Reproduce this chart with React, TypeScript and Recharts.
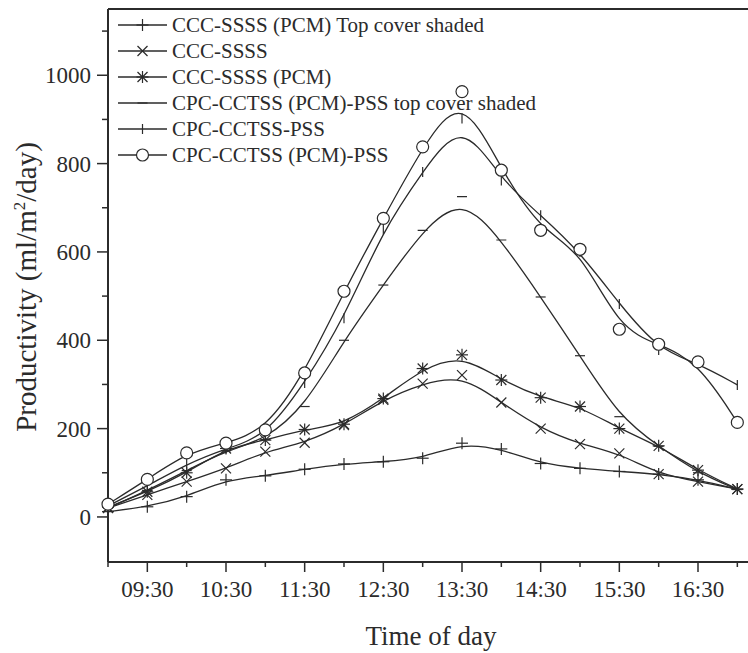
import React from 'react';
import { LineChart, Line, XAxis, YAxis, ReferenceLine } from 'recharts';

const hours = [9, 9.5, 10, 10.5, 11, 11.5, 12, 12.5, 13, 13.5, 14, 14.5, 15, 15.5, 16, 16.5, 17];
const cccPcmShaded = [12, 23, 46, 84, 93, 108, 120, 125, 133, 167, 154, 121, 110, 103, 97, 84, 63];
const cccSsss = [20, 50, 80, 110, 148, 168, 208, 265, 302, 321, 259, 200, 165, 144, 97, 80, 63];
const cccPcm = [22, 57, 100, 155, 174, 198, 210, 268, 336, 367, 310, 270, 250, 200, 161, 106, 63];
const cpcPcmShaded = [20, 60, 105, 150, 175, 250, 400, 525, 649, 725, 627, 498, 365, 227, 160, 100, 62];
const cpcPss = [25, 70, 120, 155, 182, 303, 450, 651, 781, 902, 762, 683, 600, 482, 378, 348, 299];
const cpcPcmPss = [29, 85, 145, 167, 197, 326, 511, 676, 838, 963, 785, 649, 606, 425, 391, 351, 214];

const xTicks = [9, 9.5, 10, 10.5, 11, 11.5, 12, 12.5, 13, 13.5, 14, 14.5, 15, 15.5, 16, 16.5, 17];
const xLabels: Record<string, string> = {
  '9.5': '09:30', '10.5': '10:30', '11.5': '11:30', '12.5': '12:30',
  '13.5': '13:30', '14.5': '14:30', '15.5': '15:30', '16.5': '16:30',
};
const yTicks = [0, 100, 200, 300, 400, 500, 600, 700, 800, 900, 1000, 1100];

const INK = '#2b2b2b';
const FONT = '"Liberation Serif", "Times New Roman", serif';

type Marker = 'plus' | 'cross' | 'star' | 'hdash' | 'vdash' | 'circle' | 'none';

const series: { key: string; name: string; marker: Marker; values: number[] }[] = [
  { key: 'a', name: 'CCC-SSSS (PCM) Top cover shaded', marker: 'plus', values: cccPcmShaded },
  { key: 'b', name: 'CCC-SSSS', marker: 'cross', values: cccSsss },
  { key: 'c', name: 'CCC-SSSS (PCM)', marker: 'star', values: cccPcm },
  { key: 'd', name: 'CPC-CCTSS (PCM)-PSS top cover shaded', marker: 'hdash', values: cpcPcmShaded },
  { key: 'e', name: 'CPC-CCTSS-PSS', marker: 'vdash', values: cpcPss },
  { key: 'f', name: 'CPC-CCTSS (PCM)-PSS', marker: 'circle', values: cpcPcmPss },
];

const data = hours.map((h, i) => {
  const row: Record<string, number> = { t: h };
  series.forEach(s => { row[s.key] = s.values[i]; });
  return row;
});

const MarkerShape = ({ type, cx, cy }: { type: Marker; cx: number; cy: number }) => {
  const s = 6;
  const d = 5;
  const p = { stroke: INK, strokeWidth: 1.2, fill: 'none' };
  switch (type) {
    case 'plus':
      return <g {...p}><line x1={cx - s} y1={cy} x2={cx + s} y2={cy} /><line x1={cx} y1={cy - s} x2={cx} y2={cy + s} /></g>;
    case 'cross':
      return <g {...p}><line x1={cx - d} y1={cy - d} x2={cx + d} y2={cy + d} /><line x1={cx - d} y1={cy + d} x2={cx + d} y2={cy - d} /></g>;
    case 'star':
      return (
        <g {...p}>
          <line x1={cx - s} y1={cy} x2={cx + s} y2={cy} /><line x1={cx} y1={cy - s} x2={cx} y2={cy + s} />
          <line x1={cx - d} y1={cy - d} x2={cx + d} y2={cy + d} /><line x1={cx - d} y1={cy + d} x2={cx + d} y2={cy - d} />
        </g>
      );
    case 'hdash':
      return <line {...p} x1={cx - 5} y1={cy} x2={cx + 5} y2={cy} />;
    case 'vdash':
      return <line {...p} x1={cx} y1={cy - 5} x2={cx} y2={cy + 5} />;
    case 'circle':
      return <circle cx={cx} cy={cy} r={6} stroke={INK} strokeWidth={1.2} fill="#fff" />;
    default:
      return null;
  }
};

const XTick = (props: any) => {
  const { x, y, payload } = props;
  const label = xLabels[String(payload.value)];
  const len = label ? 10 : 5;
  return (
    <g>
      <line x1={x} y1={y} x2={x} y2={y + len} stroke={INK} strokeWidth={1.5} />
      {label && (
        <text x={x} y={y + 35} textAnchor="middle" fontFamily={FONT} fontSize={23} fill={INK}>{label}</text>
      )}
    </g>
  );
};

const YTick = (props: any) => {
  const { x, y, payload } = props;
  const major = payload.value % 200 === 0;
  const len = major ? 11 : 6;
  return (
    <g>
      <line x1={x} y1={y} x2={x - len} y2={y} stroke={INK} strokeWidth={1.5} />
      {major && (
        <text x={x - 17} y={y + 8} textAnchor="end" fontFamily={FONT} fontSize={23} fill={INK}>{payload.value}</text>
      )}
    </g>
  );
};

const legendRows = [25, 51, 77, 103, 129, 155];

export default function App() {
  return (
    <div style={{ position: 'absolute', left: 0, top: 0, width: 748, height: 653, overflow: 'hidden', background: '#fff' }}>
      <LineChart width={762} height={653} data={data} margin={{ top: 9, right: 5, bottom: 0, left: 0 }}>
        <XAxis
          dataKey="t"
          type="number"
          domain={[9, 17.25]}
          ticks={xTicks}
          interval={0}
          tickSize={0}
          tickMargin={0}
          tickLine={false}
          tick={<XTick />}
          height={91}
          axisLine={{ stroke: INK, strokeWidth: 2 }}
        />
        <YAxis
          type="number"
          domain={[-102, 1150]}
          ticks={yTicks}
          interval={0}
          tickSize={0}
          tickMargin={0}
          tickLine={false}
          tick={<YTick />}
          width={108}
          axisLine={{ stroke: INK, strokeWidth: 2 }}
          allowDataOverflow
        />
        <ReferenceLine y={1150} stroke={INK} strokeWidth={2} ifOverflow="extendDomain" />
        {series.map(s => (
          <Line
            key={s.key}
            dataKey={s.key}
            name={s.name}
            type="basis"
            stroke={INK}
            strokeWidth={1.3}
            isAnimationActive={false}
            dot={(p: any) => <MarkerShape key={`${s.key}-${p.index}`} type={s.marker} cx={p.cx} cy={p.cy} />}
            activeDot={false}
          />
        ))}
      </LineChart>
      <svg width={748} height={653} style={{ position: 'absolute', left: 0, top: 0, pointerEvents: 'none' }}>
        {series.map((s, i) => (
          <g key={s.key}>
            <line x1={118} y1={legendRows[i]} x2={167} y2={legendRows[i]} stroke={INK} strokeWidth={1.3} />
            <MarkerShape type={s.marker} cx={142.5} cy={legendRows[i]} />
            <text x={172} y={legendRows[i] + 7} fontFamily={FONT} fontSize={21} fill={INK}>{s.name}</text>
          </g>
        ))}
        <text x={431} y={645} textAnchor="middle" fontFamily={FONT} fontSize={27} fill={INK}>Time of day</text>
        <text
          transform="translate(36, 287) rotate(-90)"
          textAnchor="middle"
          fontFamily={FONT}
          fontSize={29}
          fill={INK}
        >
          Productivity (ml/m<tspan dy={-11} fontSize={17}>2</tspan><tspan dy={11}>/day)</tspan>
        </text>
      </svg>
    </div>
  );
}
